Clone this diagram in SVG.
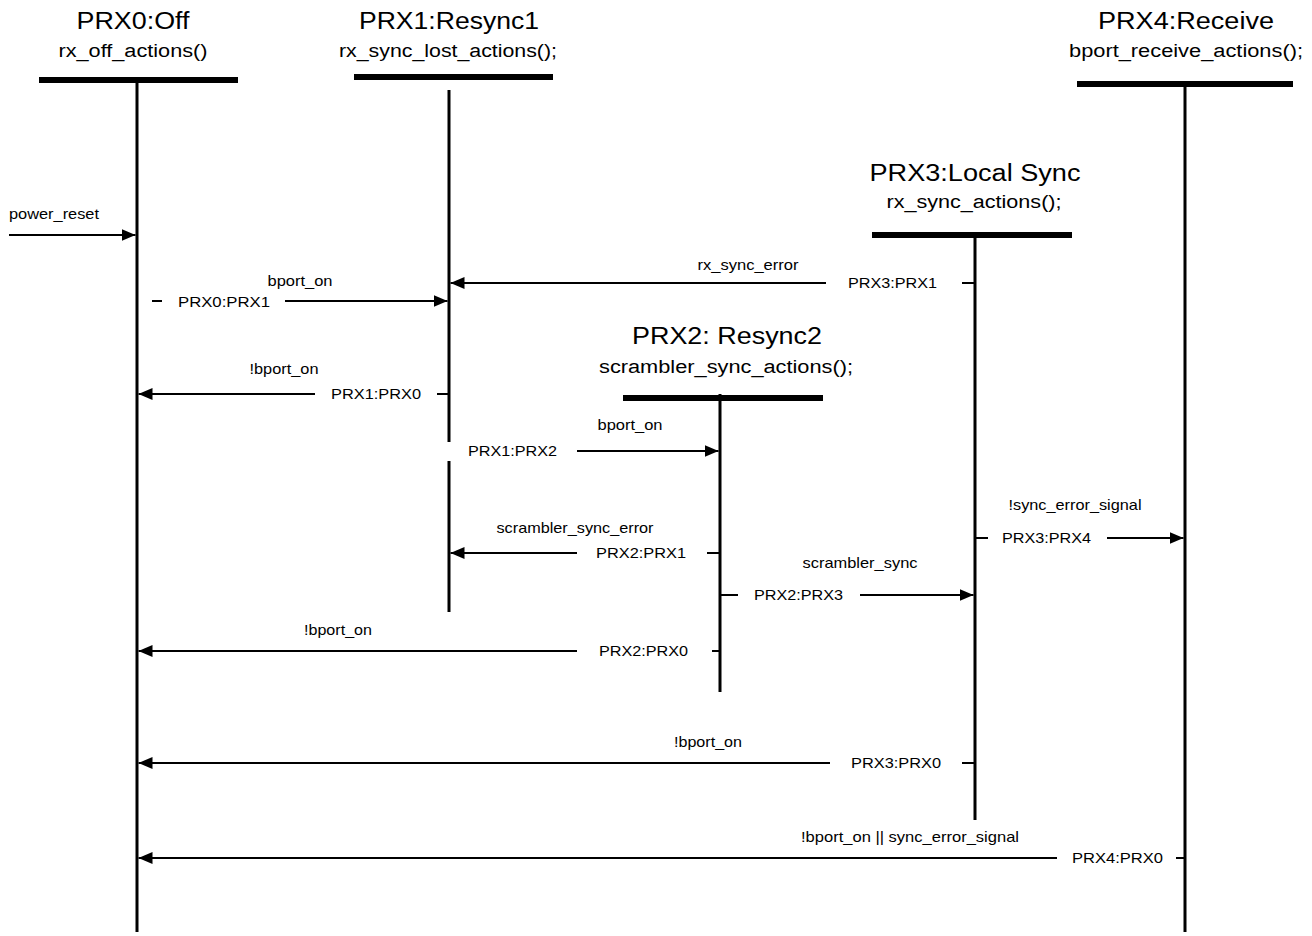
<svg xmlns="http://www.w3.org/2000/svg" width="1312" height="936" viewBox="0 0 1312 936">
<style>
text{font-family:"Liberation Sans",Arial,sans-serif;fill:#000}
.t{font-size:23px;text-anchor:middle}
.s{font-size:18px;text-anchor:middle}
.l{font-size:15px}
.m{font-size:15px;text-anchor:middle}
.bar{fill:#000}
.life{stroke:#000;stroke-width:3;fill:none}
.c{stroke:#000;stroke-width:2;fill:none}
</style>
<defs>
<marker id="arr" viewBox="0 0 14 12" refX="14" refY="6" markerWidth="14" markerHeight="12" markerUnits="userSpaceOnUse" orient="auto">
<path d="M0,0 L14,6 L0,12 z" fill="#000"/>
</marker>
</defs>
<rect width="1312" height="936" fill="#fff"/>

<g id="PRX0">
<text class="t" x="133" y="29" textLength="113" lengthAdjust="spacingAndGlyphs">PRX0:Off</text>
<text class="s" x="133" y="57" textLength="149" lengthAdjust="spacingAndGlyphs">rx_off_actions()</text>
<rect class="bar" x="39" y="77" width="199" height="6"/>
<line class="life" x1="137" y1="83" x2="137" y2="932"/>
</g>

<g id="PRX1">
<text class="t" x="449" y="29" textLength="180" lengthAdjust="spacingAndGlyphs">PRX1:Resync1</text>
<text class="s" x="448" y="57" textLength="218" lengthAdjust="spacingAndGlyphs">rx_sync_lost_actions();</text>
<rect class="bar" x="354" y="74" width="199" height="6"/>
<line class="life" x1="449" y1="90" x2="449" y2="612"/>
</g>

<g id="PRX4">
<text class="t" x="1186" y="29" textLength="176" lengthAdjust="spacingAndGlyphs">PRX4:Receive</text>
<text class="s" x="1186" y="57" textLength="234" lengthAdjust="spacingAndGlyphs">bport_receive_actions();</text>
<rect class="bar" x="1077" y="81" width="216" height="6"/>
<line class="life" x1="1185" y1="87" x2="1185" y2="932"/>
</g>

<g id="PRX3">
<text class="t" x="975" y="181" textLength="211" lengthAdjust="spacingAndGlyphs">PRX3:Local Sync</text>
<text class="s" x="974" y="208" textLength="175" lengthAdjust="spacingAndGlyphs">rx_sync_actions();</text>
<rect class="bar" x="872" y="232" width="200" height="6"/>
<line class="life" x1="975" y1="238" x2="975" y2="820"/>
</g>

<g id="PRX2">
<text class="t" x="727" y="344" textLength="190" lengthAdjust="spacingAndGlyphs">PRX2: Resync2</text>
<text class="s" x="726" y="373" textLength="254" lengthAdjust="spacingAndGlyphs">scrambler_sync_actions();</text>
<rect class="bar" x="623" y="395" width="200" height="6"/>
<line class="life" x1="720" y1="394" x2="720" y2="692"/>
</g>

<g id="connectors">
<!-- power_reset -->
<line class="c" x1="9" y1="235" x2="135.5" y2="235" marker-end="url(#arr)"/>
<text class="l" x="9" y="219" textLength="90" lengthAdjust="spacingAndGlyphs">power_reset</text>

<!-- PRX0:PRX1 -->
<line class="c" x1="152" y1="301" x2="162" y2="301"/>
<line class="c" x1="285" y1="301" x2="447.5" y2="301" marker-end="url(#arr)"/>
<text class="l" x="178" y="307" textLength="92" lengthAdjust="spacingAndGlyphs">PRX0:PRX1</text>
<text class="m" x="300" y="286" textLength="65" lengthAdjust="spacingAndGlyphs">bport_on</text>

<!-- PRX3:PRX1 -->
<line class="c" x1="962" y1="283" x2="975" y2="283"/>
<line class="c" x1="826" y1="283" x2="450.5" y2="283" marker-end="url(#arr)"/>
<text class="l" x="848" y="288" textLength="89" lengthAdjust="spacingAndGlyphs">PRX3:PRX1</text>
<text class="m" x="748" y="270" textLength="101" lengthAdjust="spacingAndGlyphs">rx_sync_error</text>

<!-- PRX1:PRX0 -->
<line class="c" x1="437" y1="394" x2="449" y2="394"/>
<line class="c" x1="315" y1="394" x2="138.5" y2="394" marker-end="url(#arr)"/>
<text class="l" x="331" y="399" textLength="90" lengthAdjust="spacingAndGlyphs">PRX1:PRX0</text>
<text class="m" x="284" y="374" textLength="69" lengthAdjust="spacingAndGlyphs">!bport_on</text>

<!-- PRX1:PRX2 -->
<rect x="446" y="442" width="20" height="19" fill="#fff"/>
<line class="c" x1="577" y1="451" x2="718.5" y2="451" marker-end="url(#arr)"/>
<text class="l" x="468" y="456" textLength="89" lengthAdjust="spacingAndGlyphs">PRX1:PRX2</text>
<text class="m" x="630" y="430" textLength="65" lengthAdjust="spacingAndGlyphs">bport_on</text>

<!-- PRX2:PRX1 -->
<line class="c" x1="707" y1="553" x2="720" y2="553"/>
<line class="c" x1="577" y1="553" x2="450.5" y2="553" marker-end="url(#arr)"/>
<text class="l" x="596" y="558" textLength="90" lengthAdjust="spacingAndGlyphs">PRX2:PRX1</text>
<text class="m" x="575" y="533" textLength="157" lengthAdjust="spacingAndGlyphs">scrambler_sync_error</text>

<!-- PRX2:PRX3 -->
<line class="c" x1="720" y1="595" x2="738" y2="595"/>
<line class="c" x1="860" y1="595" x2="973.5" y2="595" marker-end="url(#arr)"/>
<text class="l" x="754" y="600" textLength="89" lengthAdjust="spacingAndGlyphs">PRX2:PRX3</text>
<text class="m" x="860" y="568" textLength="115" lengthAdjust="spacingAndGlyphs">scrambler_sync</text>

<!-- PRX2:PRX0 -->
<line class="c" x1="712" y1="651" x2="720" y2="651"/>
<line class="c" x1="577" y1="651" x2="138.5" y2="651" marker-end="url(#arr)"/>
<text class="l" x="599" y="656" textLength="89" lengthAdjust="spacingAndGlyphs">PRX2:PRX0</text>
<text class="m" x="338" y="635" textLength="68" lengthAdjust="spacingAndGlyphs">!bport_on</text>

<!-- PRX3:PRX4 -->
<line class="c" x1="975" y1="538" x2="988" y2="538"/>
<line class="c" x1="1107" y1="538" x2="1183.5" y2="538" marker-end="url(#arr)"/>
<text class="l" x="1002" y="543" textLength="89" lengthAdjust="spacingAndGlyphs">PRX3:PRX4</text>
<text class="m" x="1075" y="510" textLength="133" lengthAdjust="spacingAndGlyphs">!sync_error_signal</text>

<!-- PRX3:PRX0 -->
<line class="c" x1="962" y1="763" x2="975" y2="763"/>
<line class="c" x1="830" y1="763" x2="138.5" y2="763" marker-end="url(#arr)"/>
<text class="l" x="851" y="768" textLength="90" lengthAdjust="spacingAndGlyphs">PRX3:PRX0</text>
<text class="m" x="708" y="747" textLength="68" lengthAdjust="spacingAndGlyphs">!bport_on</text>

<!-- PRX4:PRX0 -->
<line class="c" x1="1176" y1="858" x2="1185" y2="858"/>
<line class="c" x1="1057" y1="858" x2="138.5" y2="858" marker-end="url(#arr)"/>
<text class="l" x="1072" y="863" textLength="91" lengthAdjust="spacingAndGlyphs">PRX4:PRX0</text>
<text class="m" x="910" y="842" textLength="218" lengthAdjust="spacingAndGlyphs">!bport_on || sync_error_signal</text>
</g>
</svg>
